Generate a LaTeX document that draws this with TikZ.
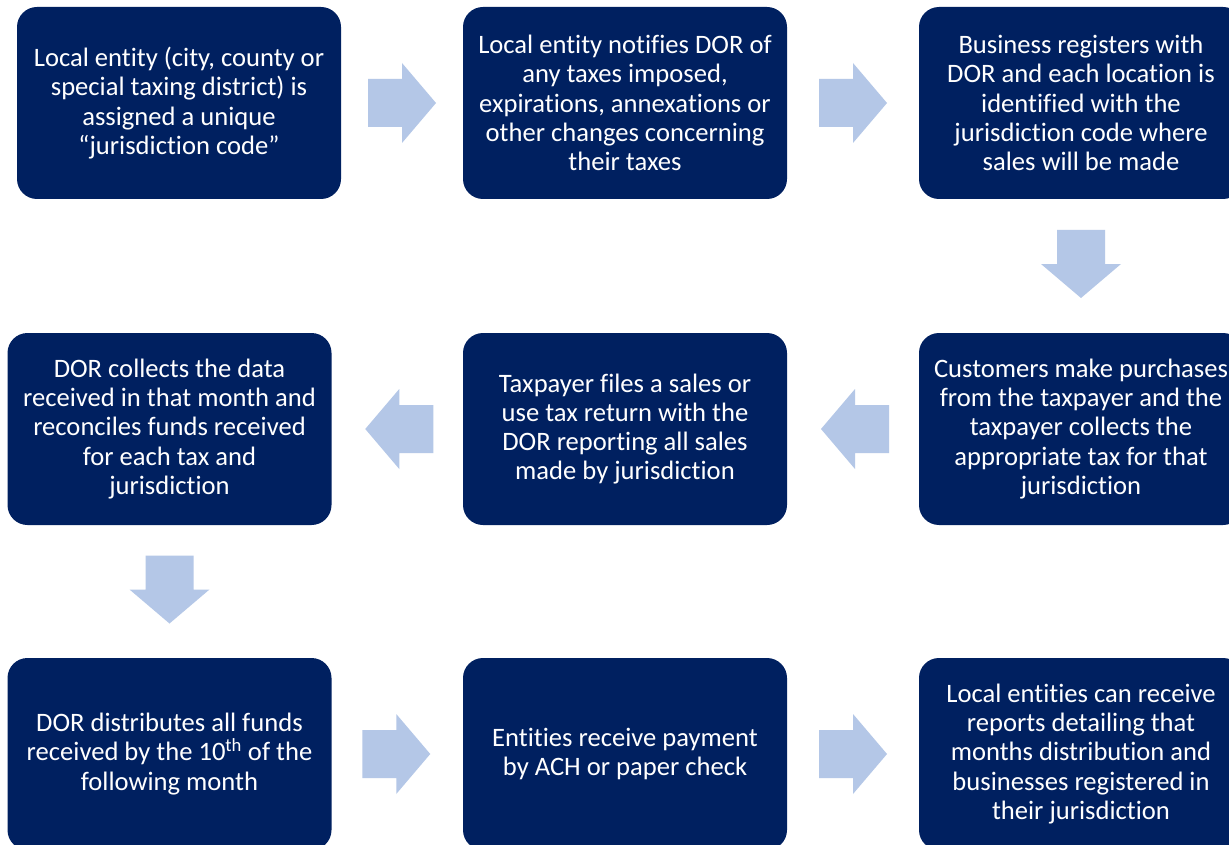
\documentclass[tikz,border=0pt]{standalone}
\usepackage{fontspec}
\setmainfont{Carlito}[Ligatures=NoCommon]
\usetikzlibrary{calc}
\definecolor{navy}{RGB}{0,32,96}
\definecolor{arrowblue}{RGB}{180,199,231}
\tikzset{
  stepbox/.style={rectangle, rounded corners=20pt, fill=navy, text=white,
    minimum width=324pt, minimum height=192pt, inner sep=0pt,
    align=center, font=\fontsize{26.6}{29.3}\selectfont},
  blockarrow/.pic={
    \fill[arrowblue] (-34,-24) -- (0,-24) -- (0,-40) -- (34,0) -- (0,40)
      -- (0,24) -- (-34,24) -- cycle;}
}
\begin{document}
\begin{tikzpicture}[x=1pt, y=-1pt]
  \clip (0,0) rectangle (1229,845);
  \fill[white] (0,0) rectangle (1229,845);

  % first row: left to right
  \node[stepbox] (b1) at (179,103) {Local entity (city, county or\\special taxing district) is\\assigned a unique\\“jurisdiction code”};
  \node[stepbox] (b2) at (625,103) {Local entity notifies DOR of\\any taxes imposed,\\expirations, annexations or\\other changes concerning\\their taxes};
  \node[stepbox] (b3) at (1081,103) {Business registers with\\DOR and each location is\\identified with the\\jurisdiction code where\\sales will be made};

  % second row: right to left
  \node[stepbox] (b6) at (1081,429) {Customers make purchases\\from the taxpayer and the\\taxpayer collects the\\appropriate tax for that\\jurisdiction};
  \node[stepbox] (b5) at (625,429) {Taxpayer files a sales or\\use tax return with the\\DOR reporting all sales\\made by jurisdiction};
  \node[stepbox] (b4) at (169.5,429) {DOR collects the data\\received in that month and\\reconciles funds received\\for each tax and\\jurisdiction};

  % third row: left to right
  \node[stepbox] (b7) at (169.5,754) {DOR distributes all funds\\received by the 10\textsuperscript{th} of the\\following month};
  \node[stepbox] (b8) at (625,754) {Entities receive payment\\by ACH or paper check};
  \node[stepbox] (b9) at (1081,754) {Local entities can receive\\reports detailing that\\months distribution and\\businesses registered in\\their jurisdiction};

  % block arrows between the steps
  \pic at ($(b1.east)!0.5!(b2.west)$) {blockarrow};
  \pic at ($(b2.east)!0.5!(b3.west)$) {blockarrow};
  \pic[rotate=-90] at ($(b3.south)!0.5!(b6.north)+(0,-2)$) {blockarrow};
  \pic[rotate=180] at ($(b6.west)!0.5!(b5.east)+(2,0)$) {blockarrow};
  \pic[rotate=180] at ($(b5.west)!0.5!(b4.east)+(2,0)$) {blockarrow};
  \pic[rotate=-90] at ($(b4.south)!0.5!(b7.north)+(0,-2)$) {blockarrow};
  \pic at ($(b7.east)!0.5!(b8.west)+(-1,0)$) {blockarrow};
  \pic at ($(b8.east)!0.5!(b9.west)$) {blockarrow};
\end{tikzpicture}
\end{document}
